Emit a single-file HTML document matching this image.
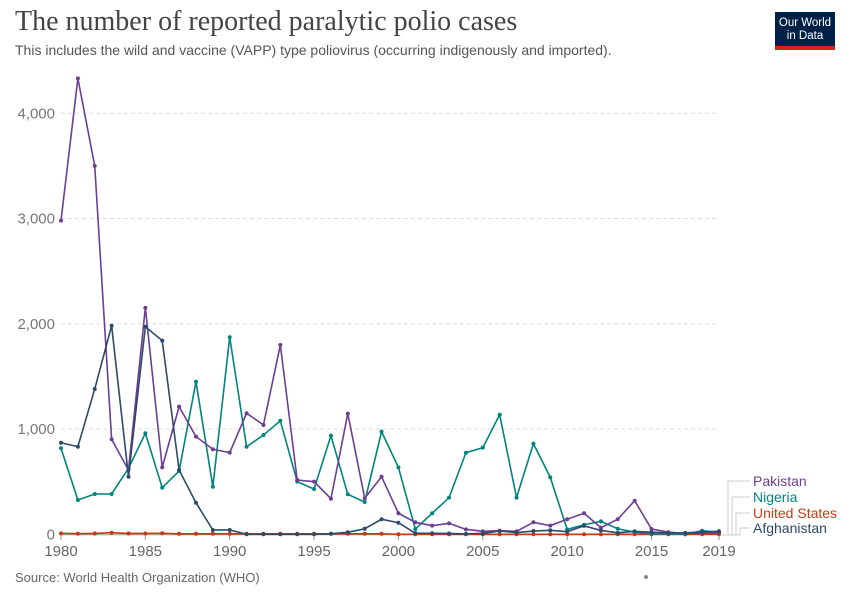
<!DOCTYPE html>
<html><head><meta charset="utf-8"><style>
body{margin:0;background:#fff;font-family:"Liberation Sans",sans-serif;}
#wrap{position:relative;width:850px;height:600px;overflow:hidden;}
.title{position:absolute;left:15px;top:6px;font-family:"Liberation Serif",serif;font-size:28px;color:#444;}
.sub{position:absolute;left:15px;top:42px;font-size:14px;color:#555;}
.logo{position:absolute;left:775px;top:12px;width:60px;height:38px;background:#002147;color:#fff;font-size:11.5px;line-height:13px;text-align:center;padding-top:5px;box-sizing:border-box;border-bottom:4px solid #ce261e;}
.src{position:absolute;left:15px;top:570px;font-size:13px;color:#666;}
</style></head><body>
<div id="wrap">
<div class="title">The number of reported paralytic polio cases</div>
<div class="sub">This includes the wild and vaccine (VAPP) type poliovirus (occurring indigenously and imported).</div>
<div class="logo">Our World<br>in Data</div>
<svg id="svg" width="850" height="600" style="position:absolute;left:0;top:0"></svg>
<div class="src">Source: World Health Organization (WHO)</div>
</div>
<script>
const years=[];for(let y=1980;y<=2019;y++)years.push(y);
const pakistan=[2980,4332,3500,903,611,2153,636,1213,928,808,776,1150,1039,1799,516,500,338,1147,342,547,200,114,82,104,47,28,34,28,114,82,143,200,63,143,319,50,20,8,12,16];
const nigeria=[817,326,383,383,627,960,443,601,1450,452,1872,832,943,1079,500,430,937,380,307,975,636,50,200,348,775,823,1136,348,861,541,47,91,123,53,20,4,4,0,34,20];
const unitedStates=[9,6,8,15,8,8,10,5,5,5,5,5,5,5,5,5,5,5,5,5,0,0,0,0,0,0,0,0,0,0,0,0,0,0,0,0,0,0,0,0];
const afghanistan=[870,832,1381,1982,547,1972,1840,611,300,41,41,0,0,0,0,0,5,19,53,143,110,11,10,8,4,9,31,17,31,38,25,80,37,14,28,20,13,14,21,29];
const yTicks=[0,1000,2000,3000,4000];
const yTickLabels=["0","1,000","2,000","3,000","4,000"];
const xTicks=[1980,1985,1990,1995,2000,2005,2010,2015,2019];
const series=[["Pakistan",pakistan,"#6d3e91"],["Nigeria",nigeria,"#00847e"],["United States",unitedStates,"#c33b12"],["Afghanistan",afghanistan,"#2d4a6a"]];
const X=y=>61+(y-1980)*(658/39);
const Y=v=>534.3-v*0.10525;
const svg=document.getElementById('svg');const NS="http://www.w3.org/2000/svg";
function el(t,a){const e=document.createElementNS(NS,t);for(const k in a)e.setAttribute(k,a[k]);svg.appendChild(e);return e;}
yTicks.forEach((v,i)=>{
 if(v>0){const g=el('line',{x1:61,x2:719,y1:Y(v),y2:Y(v),stroke:'#ddd','stroke-dasharray':'4,3'});
 
 }
 const t=el('text',{x:55,y:Y(v)+5,'text-anchor':'end','font-size':15,fill:'#777','font-family':'Liberation Sans'});t.textContent=yTickLabels[i];
 
 
});
const ax=el('line',{x1:61,x2:719,y1:534.8,y2:534.8,stroke:'#999'});


xTicks.forEach(y=>{
 const tk=el('line',{x1:X(y),x2:X(y),y1:535,y2:540,stroke:'#999'});
 
 
 const t=el('text',{x:X(y),y:556,'text-anchor':'middle','font-size':15,fill:'#666','font-family':'Liberation Sans'});t.textContent=y;
 
 
});
[2,1,0,3].forEach(si=>{
 const [name,vals,col]=series[si];
 const p=el('polyline',{points:vals.map((v,i)=>X(years[i])+','+Y(v)).join(' '),fill:'none',stroke:col,'stroke-width':1.6});
 
 
 vals.forEach((v,i)=>{const c=el('circle',{cx:X(years[i]),cy:Y(v),r:2,fill:col});
  
  });
});
const ly=[486,502,518,533];
series.forEach((s,i)=>{
 const l=el('polyline',{points:`722,535 ${728+i*4},535 ${728+i*4},${ly[i]-5} 750,${ly[i]-5}`,fill:'none',stroke:'#ccc','stroke-width':1});
 
 
 const t=el('text',{x:753,y:ly[i],'font-size':14,fill:s[2],'font-family':'Liberation Sans'});t.textContent=s[0];
 
 
});
const dot=el('circle',{cx:646,cy:577,r:2,fill:'#888'});


</script>
</body></html>
